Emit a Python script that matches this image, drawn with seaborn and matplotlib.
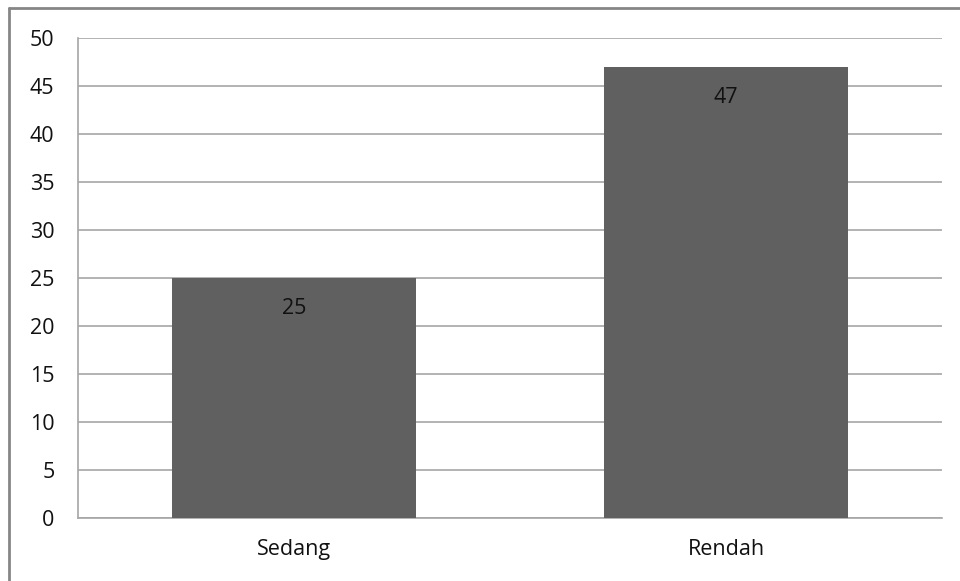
import matplotlib
matplotlib.use("Agg")
import matplotlib.pyplot as plt
import seaborn as sns
import pandas as pd
from matplotlib.lines import Line2D

categories = ["Sedang", "Rendah"]
values = [25, 47]
yticks = [0, 5, 10, 15, 20, 25, 30, 35, 40, 45, 50]

sns.set_theme(style="white")
plt.rcParams['font.family'] = ['Open Sans', 'DejaVu Sans']

df = pd.DataFrame({"cat": categories, "val": values})

fig = plt.figure(figsize=(9.6, 5.81), dpi=100)
ax = fig.add_axes([78/960, 1-518/581, (942-78)/960, (518-38)/581])

sns.barplot(data=df, x="cat", y="val", color="#606060", width=0.567,
            saturation=1, linewidth=0, ax=ax, zorder=3)

ax.set_ylim(0, 50)
ax.set_yticks(yticks)
ax.set_yticklabels([str(t) for t in yticks], fontsize=15.5, color="#111111")
ax.tick_params(axis='x', labelsize=15.5, colors="#111111", length=0, pad=15)
ax.tick_params(axis='y', length=0, pad=17)
ax.set_xlabel("")
ax.set_ylabel("")
ax.grid(axis='y', color="#a6a6a6", linewidth=1.2, zorder=0)
ax.set_axisbelow(True)
for s in ["top", "right"]:
    ax.spines[s].set_visible(False)
for s in ["left", "bottom"]:
    ax.spines[s].set_color("#a6a6a6")
    ax.spines[s].set_linewidth(1.2)

for p, v in zip(ax.patches, values):
    ax.annotate(str(v), (p.get_x() + p.get_width()/2, p.get_height()),
                xytext=(0, -31), textcoords="offset pixels",
                ha="center", va="center", fontsize=15.5, color="#111111")

# outer frame (top and left visible)
fig.add_artist(Line2D([9/960, 9/960], [0, 1-8/581], transform=fig.transFigure,
                      color="#868686", linewidth=2))
fig.add_artist(Line2D([9/960, 1], [1-8/581, 1-8/581], transform=fig.transFigure,
                      color="#868686", linewidth=2))

fig.savefig("out.png", dpi=100)
